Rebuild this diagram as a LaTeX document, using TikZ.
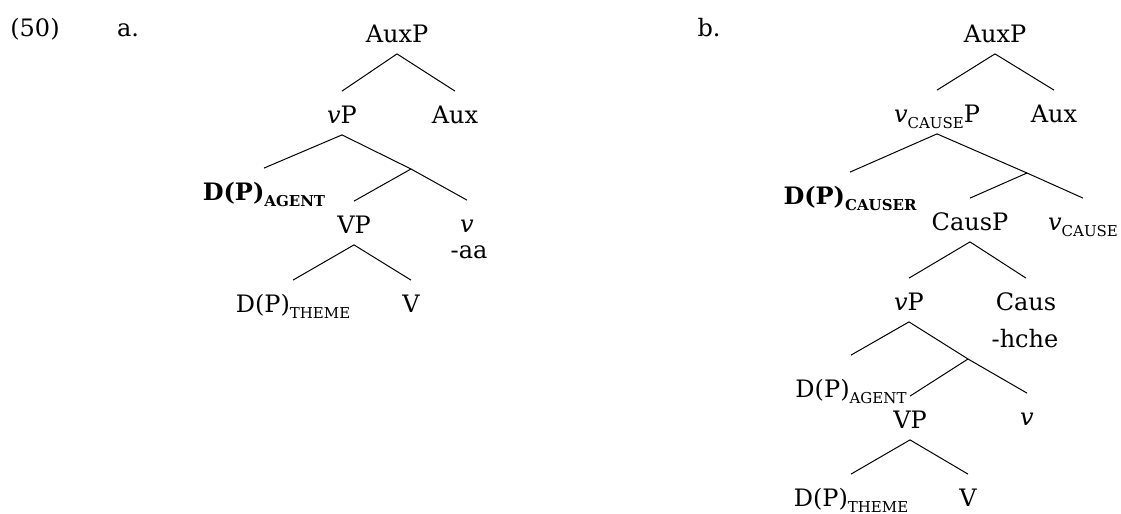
\documentclass[tikz,border=0pt]{standalone}
\usepackage{fontspec}
\setmainfont{DejaVu Serif}
\newcommand{\smsub}[1]{\raisebox{-3pt}{\fontsize{7.5}{8}\selectfont #1}}

\begin{document}
\begin{tikzpicture}[x=0.5pt, y=-0.5pt,
    every node/.style={font=\fontsize{12}{14}\selectfont, anchor=base},
    cat/.style={inner xsep=0pt, inner ysep=3pt, text height=12.75pt, text depth=2.75pt},
    branch/.style={line width=0.5pt}]
    \useasboundingbox (0,0) rectangle (1121,514);

    % Labels
    \node (exno) at (35,37) {(50)};
    \node (exa) at (128,37) {a.};
    \node (exb) at (709,37) {b.};

    % Tree a
    \node (auxpA) [cat] at (397,42) {AuxP};
    \node (vpA) [cat] at (342,123) {\textit{v}P};
    \node (auxA) [cat] at (455,123) {Aux};
    \node (agentA) [cat] at (264,200) {\textbf{D(P)\smsub{AGENT}}};
    \coordinate (barA) at (411,169);
    \node (vpbigA) [cat] at (354,233) {VP};
    \node (vA) [cat] at (467,232) {\textit{v}};
    \node (aaA) at (469,258) {-aa};
    \node (themeA) [cat] at (293,312) {D(P)\smsub{THEME}};
    \node (verbA) [cat] at (411,312) {V};

    % Tree b
    \node (auxpB) [cat] at (995,42) {AuxP};
    \node (vcpB) [cat] at (937,122) {\textit{v}\smsub{CAUSE}P};
    \node (auxB) [cat] at (1054,122) {Aux};
    \node (causerB) [cat] at (850,204) {\textbf{D(P)\smsub{CAUSER}}};
    \coordinate (barB) at (1027,173);
    \node (causpB) [cat] at (970,230) {CausP};
    \node (vcB) [cat] at (1083,230) {\textit{v}\smsub{CAUSE}};
    \node (vpB) [cat] at (909,310) {\textit{v}P};
    \node (causB) [cat] at (1026,310) {Caus};
    \node (hcheB) at (1025,347) {-hche};
    \node (agentB) [cat] at (851,397) {D(P)\smsub{AGENT}};
    \coordinate (barC) at (968,359);
    \node (vpbigB) [cat] at (910,428) {VP};
    \node (vB) [cat] at (1027,425) {\textit{v}};
    \node (themeB) [cat] at (851,506) {D(P)\smsub{THEME}};
    \node (verbB) [cat] at (968,506) {V};

    % Branches a
    \draw[branch] (auxpA.south) -- (vpA.north);
    \draw[branch] (auxpA.south) -- (auxA.north);
    \draw[branch] (vpA.south) -- (agentA.north);
    \draw[branch] (vpA.south) -- (barA) -- (vA.north);
    \draw[branch] (barA) -- (vpbigA.north);
    \draw[branch] (vpbigA.south) -- (themeA.north);
    \draw[branch] (vpbigA.south) -- (verbA.north);

    % Branches b
    \draw[branch] (auxpB.south) -- (vcpB.north);
    \draw[branch] (auxpB.south) -- (auxB.north);
    \draw[branch] (vcpB.south) -- (causerB.north);
    \draw[branch] (vcpB.south) -- (barB) -- (vcB.north);
    \draw[branch] (barB) -- (causpB.north);
    \draw[branch] (causpB.south) -- (vpB.north);
    \draw[branch] (causpB.south) -- (causB.north);
    \draw[branch] (vpB.south) -- ([yshift=5pt]agentB.north);
    \draw[branch] (vpB.south) -- (barC) -- (vB.north);
    \draw[branch] (barC) -- (vpbigB.north);
    \draw[branch] (vpbigB.south) -- (themeB.north);
    \draw[branch] (vpbigB.south) -- (verbB.north);
\end{tikzpicture}
\end{document}
